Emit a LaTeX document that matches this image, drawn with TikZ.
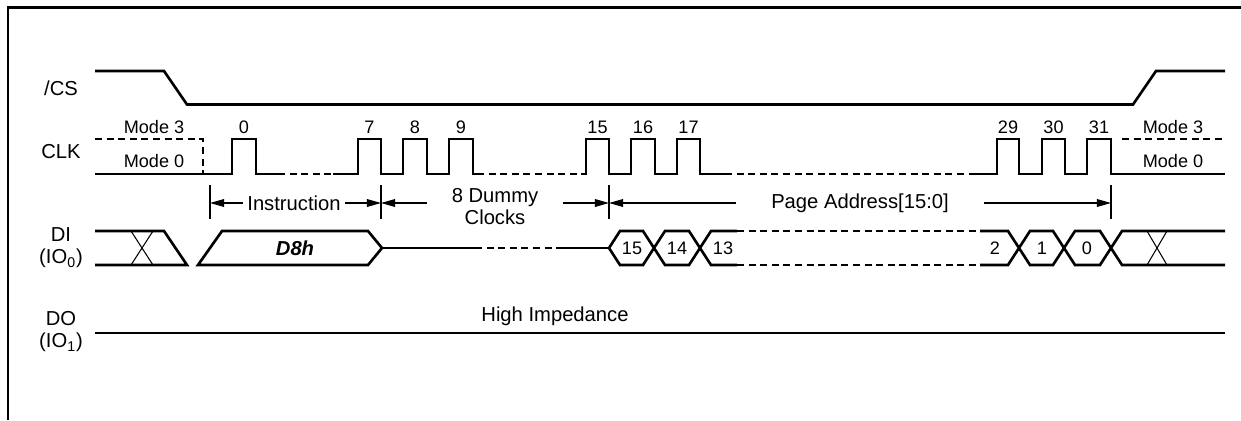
\documentclass[tikz,border=0pt]{standalone}
\usepackage{fontspec}
\setmainfont{Liberation Sans}
\usetikzlibrary{arrows.meta}
\usetikzlibrary{positioning}

\begin{document}
\begin{tikzpicture}[x=0.2mm, y=-0.2mm,
		signal/.style={line width=1.5pt, line join=miter},
		dotsig/.style={signal, dash pattern=on 4pt off 2.6pt},
		guide/.style={line width=0.6pt},
		dim/.style={line width=0.6pt, -{Triangle[length=8pt, width=4.4pt]}},
		lbl/.style={font=\fontsize{11.5}{12.5}\selectfont, inner sep=0pt, align=center},
		num/.style={font=\fontsize{10.3}{11}\selectfont, inner sep=0pt},
	]
		\useasboundingbox (0,0) rectangle (1241,420);
		\draw[line width=1.5pt] (8,420) -- (8,7.5) -- (1241,7.5);

		% signal names
		\node[lbl] (cs) at (61,88) {/CS};
		\node[lbl] (clk) at (61,152) {CLK};
		\node[lbl] (di) at (61,248) {DI\\(IO\textsubscript{0})};
		\node[lbl] (do) at (61,332) {DO\\(IO\textsubscript{1})};

		% /CS
		\draw[signal] (95,71) -- (164,71) -- (187,104.5) -- (1133,104.5) -- (1156,71) -- (1225,71);

		% CLK
		\draw[dotsig] (95,139) -- (203,139) -- (203,174);
		\draw[dotsig] (1122,139) -- (1225,139);
		\node[num] (m3l) at (154,127) {Mode 3};
		\node[num] (m0l) at (154,161) {Mode 0};
		\node[num] (m3r) at (1173,127) {Mode 3};
		\node[num] (m0r) at (1173,161) {Mode 0};

		\draw[signal] (95,174) -| (232,139) -| (256,174) -- (278,174);
		\draw[dotsig] (278,174) -- (333,174);
		\draw[signal] (333,174) -| (358,139) -| (381,174) -| (403,139) -| (427,174)
			-| (449,139) -| (473,174) -- (477,174);
		\draw[dotsig] (477,174) -- (582,174);
		\draw[signal] (582,174) -| (586,139) -| (609,174) -| (631,139) -| (655,174)
			-| (677,139) -| (700,174) -- (725,174);
		\draw[dotsig] (725,174) -- (970,174);
		\draw[signal] (970,174) -| (997,139) -| (1019,174) -| (1042,139) -| (1065,174)
			-| (1087,139) -| (1111,174) -- (1225,174);

		\foreach \x/\n in {244/0, 369.5/7, 415/8, 461/9, 597.5/15, 643/16, 688.5/17, 1008/29, 1053.5/30, 1099/31}
			\node[num] (c\n) at (\x,127) {\n};

		% phases
		\path (210,203) coordinate (t0)
			(381,203) coordinate (t1)
			(609,203) coordinate (t2)
			(1111,203) coordinate (t3);
		\foreach \t in {t0,t1,t2,t3}
			\draw[guide] (\t) ++(0,-18) -- ++(0,34);

		\node[lbl, inner xsep=2.4pt] (instr) at (294,203) {Instruction};
		\draw[dim] (instr.west) -- (t0);
		\draw[dim] (instr.east) -- (t1);

		\node[lbl, inner xsep=14pt] (dummy) at (495,207) {8 Dummy\\Clocks};
		\draw[dim] (dummy.west|-t1) -- (t1);
		\draw[dim] (dummy.east|-t2) -- (t2);

		\node[lbl, inner xsep=20pt] (addr) at (860,203) {Page Address[15:0]};
		\draw[dim] (addr.west) -- (t2);
		\draw[dim] (addr.east) -- (t3);

		% DI
		\draw[signal] (95,231) -- (164,231) -- (187,265) -- (95,265);
		\draw[guide] (131,231) -- (153,265) (131,265) -- (153,231);
		\draw[signal] (198,265) -- (222,231) -- (368,231) -- (382,248) -- (368,265) -- cycle;
		\node[lbl] (d8h) at (295,248) {\textbf{\textit{D8h}}};
		\draw[signal] (382,248) -- (475,248);
		\draw[dotsig] (475,248) -- (560,248);
		\draw[signal] (560,248) -- (609,248);

		\draw[signal] (609,248) -- (620,231) -- (643,231) -- (665,265) -- (689,265) -- (711,231) -- (737,231);
		\draw[signal] (609,248) -- (620,265) -- (643,265) -- (665,231) -- (689,231) -- (711,265) -- (737,265);
		\draw[dotsig] (737,231) -- (980,231) (737,265) -- (980,265);
		\draw[signal] (980,231) -- (1008,231) -- (1030,265) -- (1053,265) -- (1075,231) -- (1100,231) -- (1122,265) -- (1225,265);
		\draw[signal] (980,265) -- (1008,265) -- (1030,231) -- (1053,231) -- (1075,265) -- (1100,265) -- (1122,231) -- (1225,231);
		\draw[guide] (1147,231) -- (1167,265) (1147,265) -- (1167,231);

		\foreach \x/\n in {632/15, 677/14, 723/13, 995/2, 1042/1, 1087/0}
			\node[num] (b\n) at (\x,248) {\n};

		% DO
		\draw[signal] (95,333) -- (1225,333);
		\node[lbl] (hiz) at (555,316) {High Impedance};
\end{tikzpicture}
\end{document}
